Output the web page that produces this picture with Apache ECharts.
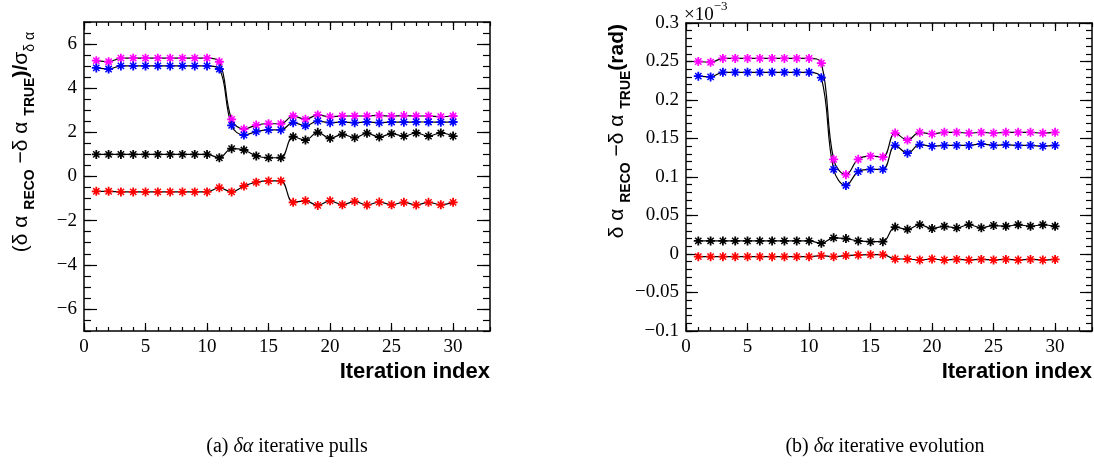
<!DOCTYPE html>
<html>
<head>
<meta charset="utf-8">
<script src="https://cdn.jsdelivr.net/npm/echarts@6/dist/echarts.min.js"></script>
<style>
  html, body { margin: 0; padding: 0; background: #fff; }
  #main { width: 1094px; height: 464px; }
</style>
</head>
<body>
<div id="main"></div>
<script>
var chartDom = document.getElementById('main');
var myChart = echarts.init(chartDom);

// iteration index (x)
const iterations = [1, 2, 3, 4, 5, 6, 7, 8, 9, 10, 11, 12, 13, 14, 15, 16, 17, 18, 19, 20,
                    21, 22, 23, 24, 25, 26, 27, 28, 29, 30];

// (a) pulls
const pullMagenta = [5.25, 5.20, 5.36, 5.36, 5.36, 5.36, 5.36, 5.36, 5.36, 5.36, 5.20, 2.59, 2.15, 2.33, 2.39,
                     2.39, 2.74, 2.59, 2.79, 2.71, 2.74, 2.74, 2.74, 2.77, 2.73, 2.76, 2.74, 2.74, 2.71, 2.74];
const pullBlue = [4.92, 4.87, 5.01, 5.01, 5.01, 5.01, 5.01, 5.01, 5.01, 5.01, 4.87, 2.32, 1.88, 2.03, 2.11,
                  2.11, 2.44, 2.30, 2.51, 2.44, 2.47, 2.44, 2.47, 2.44, 2.47, 2.46, 2.47, 2.47, 2.46, 2.47];
const pullBlack = [1.0, 1.0, 1.0, 1.0, 1.0, 1.0, 1.0, 1.0, 1.0, 1.0, 0.85, 1.26, 1.20, 0.93, 0.85,
                   0.85, 1.80, 1.65, 2.0, 1.73, 1.91, 1.76, 1.96, 1.79, 1.94, 1.83, 1.97, 1.83, 1.97, 1.83];
const pullRed = [-0.67, -0.67, -0.70, -0.70, -0.70, -0.70, -0.70, -0.70, -0.70, -0.70, -0.51, -0.70, -0.43, -0.26, -0.20,
                 -0.20, -1.17, -1.10, -1.31, -1.10, -1.28, -1.13, -1.29, -1.16, -1.28, -1.17, -1.29, -1.17, -1.28, -1.17];

// (b) evolution, in units of 1e-3 rad
const evoMagenta = [0.250, 0.249, 0.254, 0.254, 0.254, 0.254, 0.254, 0.254, 0.254, 0.254, 0.248, 0.123, 0.103, 0.123, 0.127,
                    0.126, 0.157, 0.148, 0.158, 0.156, 0.158, 0.158, 0.157, 0.158, 0.157, 0.158, 0.158, 0.158, 0.157, 0.158];
const evoBlue = [0.231, 0.230, 0.236, 0.236, 0.236, 0.236, 0.236, 0.236, 0.236, 0.236, 0.229, 0.110, 0.089, 0.107, 0.110,
                 0.110, 0.141, 0.131, 0.142, 0.140, 0.141, 0.141, 0.141, 0.143, 0.141, 0.142, 0.141, 0.141, 0.140, 0.141];
const evoBlack = [0.017, 0.017, 0.017, 0.017, 0.017, 0.017, 0.017, 0.017, 0.017, 0.017, 0.014, 0.021, 0.020, 0.017, 0.016,
                  0.016, 0.035, 0.032, 0.038, 0.033, 0.036, 0.034, 0.038, 0.034, 0.037, 0.036, 0.038, 0.036, 0.038, 0.036];
const evoRed = [-0.0035, -0.0035, -0.0035, -0.0035, -0.0035, -0.0035, -0.0035, -0.0035, -0.0035, -0.0035, -0.002, -0.0035, -0.002, -0.0013, -0.0009,
                -0.0009, -0.0065, -0.0065, -0.0078, -0.0065, -0.0078, -0.007, -0.0078, -0.007, -0.0078, -0.007, -0.0078, -0.007, -0.0078, -0.007];

// tick labels
const xMajor = [0, 5, 10, 15, 20, 25, 30];
const pullMajor = [-6, -4, -2, 0, 2, 4, 6];
const evoMajor = [-0.1, -0.05, 0, 0.05, 0.1, 0.15, 0.2, 0.25, 0.3];

const seriesColors = ['#ff00ff', '#0000ff', '#000000', '#ff0000'];

// ROOT style asterisk marker (8 arms)
const starPath = 'path://M-1 -5L1 -5L1 5L-1 5Z M-5 -1L5 -1L5 1L-5 1Z ' +
    'M-4.07 -2.93L-2.93 -4.07L4.07 2.93L2.93 4.07Z M4.07 -2.93L-2.93 4.07L-4.07 2.93L2.93 -4.07Z';

function steps(from, to, step) {
    var out = [];
    var n = Math.round((to - from) / step);
    for (var i = 0; i <= n; i++) out.push(+(from + i * step).toFixed(4));
    return out;
}
const xMinor = steps(0, 33, 1);
const pullMinor = steps(-7, 7, 0.5);
const evoMinor = steps(-0.1, 0.3, 0.01);

const labelFont = {
    fontFamily: 'Liberation Serif',
    fontSize: 19,
    color: '#000'
};

function fmt(v) {
    return String(v).replace('-', '\u2212');
}

// build the 4 sided ROOT frame from several axes
function frame(gi, dim, min, max, major, minor, majLen, minLen) {
    var sides = dim === 'x' ? ['bottom', 'top'] : ['left', 'right'];
    var axes = [];
    sides.forEach(function (pos, k) {
        axes.push({
            gridIndex: gi, type: 'value', position: pos, min: min, max: max,
            axisLine: { show: true, onZero: false, lineStyle: { color: '#000', width: 1.5 } },
            axisTick: { show: true, inside: true, length: majLen, customValues: major, lineStyle: { color: '#000', width: 1.2 } },
            axisLabel: Object.assign({ show: k === 0, customValues: major, margin: 7, formatter: fmt }, labelFont),
            splitLine: { show: false }
        });
        axes.push({
            gridIndex: gi, type: 'value', position: pos, min: min, max: max,
            axisLine: { show: false, onZero: false },
            axisTick: { show: true, inside: true, length: minLen, customValues: minor, lineStyle: { color: '#000', width: 1.2 } },
            axisLabel: { show: false },
            splitLine: { show: false }
        });
    });
    return axes;
}

var xAxes = frame(0, 'x', 0, 33, xMajor, xMinor, 8, 4).concat(frame(1, 'x', 0, 33, xMajor, xMinor, 8, 4));
var yAxes = frame(0, 'y', -7, 7, pullMajor, pullMinor, 13, 7).concat(frame(1, 'y', -0.1, 0.3, evoMajor, evoMinor, 12, 6));

function makeSeries(values, color, gi) {
    return {
        type: 'line',
        xAxisIndex: gi * 4,
        yAxisIndex: gi * 4,
        data: iterations.map(function (x, i) { return [x, values[i]]; }),
        smooth: 0.4,
        symbol: starPath,
        symbolSize: 9,
        itemStyle: { color: color },
        lineStyle: { color: '#000', width: 1.2 },
        z: 3
    };
}

var series = [];
[pullMagenta, pullBlue, pullBlack, pullRed].forEach(function (v, i) { series.push(makeSeries(v, seriesColors[i], 0)); });
[evoMagenta, evoBlue, evoBlack, evoRed].forEach(function (v, i) { series.push(makeSeries(v, seriesColors[i], 1)); });

const titleRich = {
    b: { fontFamily: 'Liberation Sans', fontWeight: 'bold', fontSize: 21, padding: [0, 0, 5, 0], verticalAlign: 'bottom', fill: '#000' },
    s: { fontFamily: 'Liberation Sans', fontWeight: 'bold', fontSize: 14, verticalAlign: 'bottom', fill: '#000' },
    g: { fontFamily: 'Liberation Sans', fontSize: 21, padding: [0, 0, 5, 0], verticalAlign: 'bottom', fill: '#000' },
    gs: { fontFamily: 'Liberation Sans', fontSize: 14, verticalAlign: 'bottom', fill: '#000' }
};

const captionRich = {
    r: { fontFamily: 'Liberation Serif', fontSize: 20, fill: '#000' },
    i: { fontFamily: 'Liberation Serif', fontStyle: 'italic', fontSize: 20, fill: '#000' }
};

var option = {
    animation: false,
    backgroundColor: '#fff',
    grid: [
        { left: 84, top: 22, width: 406, height: 309 },
        { left: 686, top: 23, width: 406, height: 308 }
    ],
    xAxis: xAxes,
    yAxis: yAxes,
    series: series,
    graphic: {
        elements: [
            {
                type: 'text', x: 490, y: 372,
                style: { text: 'Iteration index', fontFamily: 'Liberation Sans', fontWeight: 'bold', fontSize: 22, fill: '#000', align: 'right', verticalAlign: 'middle' }
            },
            {
                type: 'text', x: 1092, y: 372,
                style: { text: 'Iteration index', fontFamily: 'Liberation Sans', fontWeight: 'bold', fontSize: 22, fill: '#000', align: 'right', verticalAlign: 'middle' }
            },
            {
                type: 'text', x: 24, y: 32, rotation: Math.PI / 2,
                style: {
                    text: '{g|(δ α }{s|RECO}{g| −δ α }{s|TRUE}{b|)/}{g|σ}{gs|δ α}',
                    rich: titleRich, align: 'right', verticalAlign: 'middle'
                }
            },
            {
                type: 'text', x: 620, y: 24, rotation: Math.PI / 2,
                style: {
                    text: '{g|δ α }{s|RECO}{g| −δ α }{s|TRUE}{b|(rad)}',
                    rich: titleRich, align: 'right', verticalAlign: 'middle'
                }
            },
            {
                type: 'text', x: 684, y: 0,
                style: {
                    text: '{a|×10}{e|−3}',
                    rich: {
                        a: { fontFamily: 'Liberation Serif', fontSize: 19, padding: [6, 0, 0, 0], verticalAlign: 'bottom', fill: '#000' },
                        e: { fontFamily: 'Liberation Serif', fontSize: 13, verticalAlign: 'top', fill: '#000' }
                    },
                    align: 'left', verticalAlign: 'top'
                }
            },
            {
                type: 'text', x: 287, y: 447,
                style: { text: '{r|(a) }{i|δα}{r| iterative pulls}', rich: captionRich, align: 'center', verticalAlign: 'middle' }
            },
            {
                type: 'text', x: 885, y: 447,
                style: { text: '{r|(b) }{i|δα}{r| iterative evolution}', rich: captionRich, align: 'center', verticalAlign: 'middle' }
            }
        ]
    }
};

myChart.setOption(option);
</script>
</body>
</html>
